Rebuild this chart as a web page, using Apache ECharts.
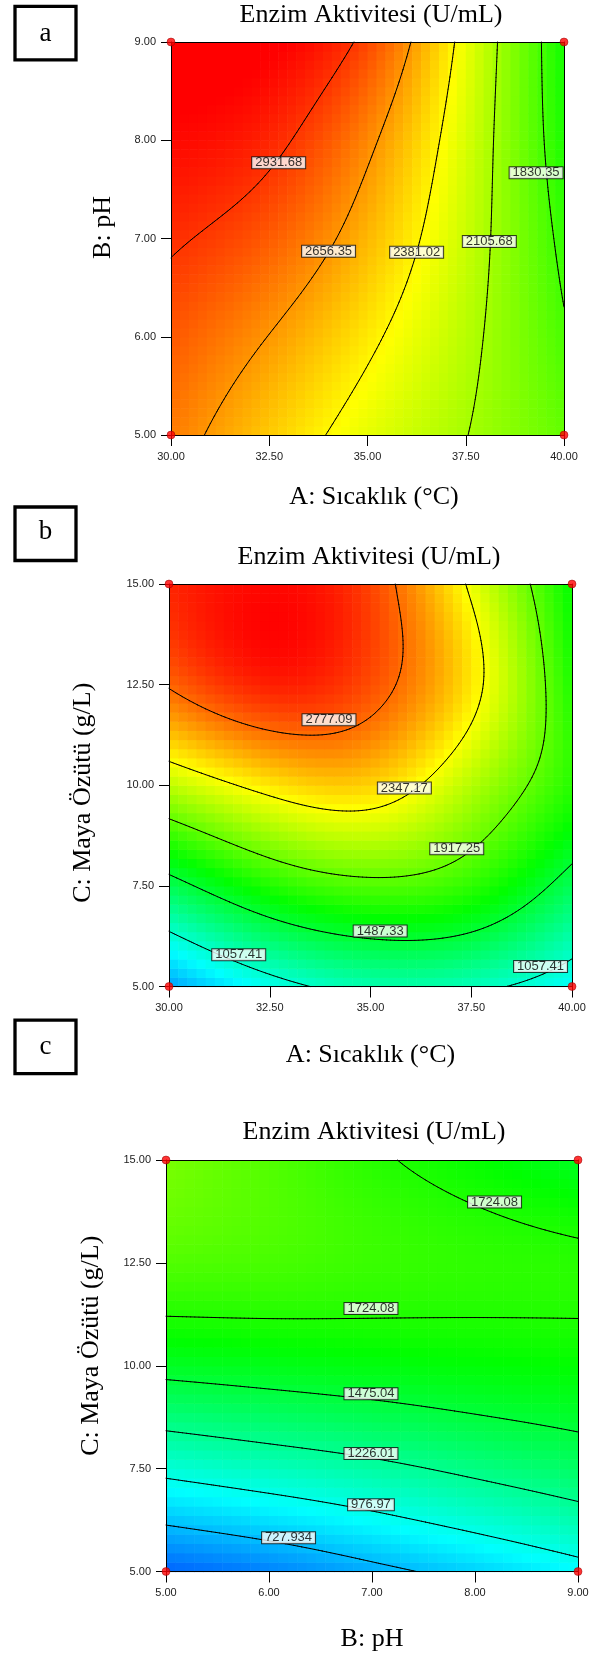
<!DOCTYPE html>
<html>
<head>
<meta charset="utf-8">
<title>Enzim Aktivitesi (U/mL)</title>
<script src="https://cdn.jsdelivr.net/npm/echarts@6/dist/echarts.min.js"></script>
<style>
  html, body { margin: 0; padding: 0; background: #fff; }
  #main { width: 592px; height: 1659px; }
</style>
</head>
<body>
<div id="main"></div>
<script>
// factor levels at the tick marks
var sicaklik = [30, 32.5, 35, 37.5, 40];
var pH = [5, 6, 7, 8, 9];
var mayaOzutu = [5, 7.5, 10, 12.5, 15];

// response (U/mL) at the tick crossings, rows = y value bottom to top
var surfaceA = [           // A (x) vs B: pH (y)
  [2733, 2508, 2293, 2110, 1920],
  [2835, 2652, 2420, 2158, 1850],
  [2955, 2822, 2561, 2208, 1785],
  [3060, 2976, 2697, 2251, 1720],
  [3140, 3100, 2879, 2309, 1690]
];
var surfaceB = [           // A (x) vs C: Maya Özütü (y)
  [650, 965, 1140, 1110, 930],
  [1400, 1720, 1860, 1760, 1390],
  [2172, 2420, 2480, 2146, 1740],
  [2793, 2990, 2860, 2420, 1720],
  [2980, 3060, 2890, 2310, 1640]
];
var surfaceC = [           // B: pH (x) vs C: Maya Özütü (y)
  [480, 565, 680, 790, 910],
  [1028, 1103, 1178, 1268, 1355],
  [1536, 1568, 1596, 1621, 1640],
  [1866, 1840, 1800, 1770, 1750],
  [1980, 1870, 1750, 1650, 1540]
];

// contour levels and where their labels sit [x, y, level]
var levelsA = [1830.35, 2105.68, 2381.02, 2656.35, 2931.68];
var levelsB = [1057.41, 1487.33, 1917.25, 2347.17, 2777.09];
var levelsC = [727.934, 976.97, 1226.01, 1475.04, 1724.08];

var labelsA = [[32.74, 7.77, 2931.68], [34.01, 6.87, 2656.35], [36.25, 6.86, 2381.02],
               [38.10, 6.97, 2105.68], [39.29, 7.67, 1830.35]];
var labelsB = [[33.97, 11.63, 2777.09], [35.84, 9.93, 2347.17], [37.14, 8.42, 1917.25],
               [35.24, 6.38, 1487.33], [31.73, 5.79, 1057.41], [39.22, 5.50, 1057.41]];
var labelsC = [[8.19, 13.98, 1724.08], [6.99, 11.39, 1724.08], [6.99, 9.32, 1475.04],
               [6.99, 7.87, 1226.01], [6.99, 6.62, 976.97], [6.19, 5.82, 727.934]];

// design points (corners)
var cornersA = [[30, 5], [30, 9], [40, 5], [40, 9]];
var cornersB = [[30, 5], [30, 15], [40, 5], [40, 15]];
var cornersC = [[5, 5], [5, 15], [9, 5], [9, 15]];

var SERIF = "'Liberation Serif', 'Times New Roman', serif";
var SANS = "'Liberation Sans', Arial, sans-serif";

// natural cubic spline through equally spaced nodes
function splineSecond(ys) {
  var n = ys.length, m = [], c = [], d = [];
  for (var i = 0; i < n; i++) m[i] = 0;
  for (var i = 1; i < n - 1; i++) {
    var rhs = 6 * (ys[i + 1] - 2 * ys[i] + ys[i - 1]);
    if (i === 1) { c[i] = 0.25; d[i] = rhs / 4; }
    else { var w = 4 - c[i - 1]; c[i] = 1 / w; d[i] = (rhs - d[i - 1]) / w; }
  }
  for (var i = n - 2; i >= 1; i--) m[i] = d[i] - c[i] * m[i + 1];
  return m;
}
function splineEval(ys, m, t) {
  var k = Math.min(Math.max(Math.floor(t), 0), ys.length - 2), u = t - k, v = 1 - u;
  return v * ys[k] + u * ys[k + 1] + ((v * v * v - v) * m[k] + (u * u * u - u) * m[k + 1]) / 6;
}

function surface(p, x, y) {
  var tx = (x - p.xs[0]) / (p.xs[1] - p.xs[0]);
  var ty = (y - p.ys[0]) / (p.ys[1] - p.ys[0]);
  var col = [];
  for (var r = 0; r < p.z.length; r++) col.push(splineEval(p.z[r], p.rowM[r], tx));
  return splineEval(col, splineSecond(col), ty);
}

function cells(p, n) {
  var x0 = p.xs[0], x1 = p.xs[p.xs.length - 1], y0 = p.ys[0], y1 = p.ys[p.ys.length - 1];
  var dx = (x1 - x0) / n, dy = (y1 - y0) / n, out = [];
  for (var j = 0; j < n; j++) {
    for (var i = 0; i < n; i++) {
      var x = x0 + (i + 0.5) * dx, y = y0 + (j + 0.5) * dy;
      out.push([x, y, surface(p, x, y)]);
    }
  }
  return { data: out, dx: dx, dy: dy };
}

// marching squares -> list of [x1, y1, x2, y2]
function contours(p, n) {
  var x0 = p.xs[0], x1 = p.xs[p.xs.length - 1], y0 = p.ys[0], y1 = p.ys[p.ys.length - 1];
  var gx = function (i) { return x0 + (x1 - x0) * i / n; };
  var gy = function (j) { return y0 + (y1 - y0) * j / n; };
  var v = [];
  for (var j = 0; j <= n; j++) {
    v[j] = [];
    for (var i = 0; i <= n; i++) v[j][i] = surface(p, gx(i), gy(j));
  }
  var segs = [];
  p.levels.forEach(function (lv) {
    for (var j = 0; j < n; j++) {
      for (var i = 0; i < n; i++) {
        var c = [[i, j], [i + 1, j], [i + 1, j + 1], [i, j + 1]];
        var pts = [];
        for (var e = 0; e < 4; e++) {
          var a = c[e], b = c[(e + 1) % 4];
          var va = v[a[1]][a[0]], vb = v[b[1]][b[0]];
          if ((va - lv) * (vb - lv) < 0) {
            var t = (lv - va) / (vb - va);
            pts.push([gx(a[0] + (b[0] - a[0]) * t), gy(a[1] + (b[1] - a[1]) * t)]);
          }
        }
        if (pts.length >= 2) segs.push([pts[0][0], pts[0][1], pts[1][0], pts[1][1]]);
        if (pts.length === 4) segs.push([pts[2][0], pts[2][1], pts[3][0], pts[3][1]]);
      }
    }
  });
  return segs;
}

var panels = [
  { xs: sicaklik, ys: pH, z: surfaceA, levels: levelsA, labels: labelsA, corners: cornersA,
    grid: { left: 171, top: 42, width: 393, height: 393 }, xStep: 2.5, yStep: 1,
    xName: 'A: Sıcaklık (°C)', yName: 'B: pH', xGap: 49, yGap: 55, xPad: [0, 0, 0, 13], yPad: [0, 0, 0, 22] },
  { xs: sicaklik, ys: mayaOzutu, z: surfaceB, levels: levelsB, labels: labelsB, corners: cornersB,
    grid: { left: 169, top: 584, width: 403, height: 402.5 }, xStep: 2.5, yStep: 2.5,
    xName: 'A: Sıcaklık (°C)', yName: 'C: Maya Özütü (g/L)', xGap: 56, yGap: 73, xPad: [0, 0, 0, 0], yPad: [0, 15, 0, 0] },
  { xs: pH, ys: mayaOzutu, z: surfaceC, levels: levelsC, labels: labelsC, corners: cornersC,
    grid: { left: 166, top: 1160, width: 412, height: 411.5 }, xStep: 1, yStep: 2.5,
    xName: 'B: pH', yName: 'C: Maya Özütü (g/L)', xGap: 55, yGap: 62, xPad: [0, 0, 0, 0], yPad: [0, 0, 0, 40] }
];

var grids = [], xAxes = [], yAxes = [], series = [], cellSeries = [];
var fmt = function (v) { return v.toFixed(2); };

panels.forEach(function (p, k) {
  p.rowM = p.z.map(splineSecond);
  var xmin = p.xs[0], xmax = p.xs[p.xs.length - 1], ymin = p.ys[0], ymax = p.ys[p.ys.length - 1];
  grids.push(p.grid);
  var line = { show: true, lineStyle: { color: '#000', width: 1 } };
  xAxes.push({
    gridIndex: k, type: 'value', min: xmin, max: xmax, interval: p.xStep, position: 'bottom', z: 6,
    axisLine: line, axisTick: { show: true, length: 11, lineStyle: { color: '#000' } },
    axisLabel: { formatter: fmt, margin: 16, fontSize: 11, fontFamily: SANS, color: '#222' },
    splitLine: { show: false },
    name: p.xName, nameLocation: 'middle', nameGap: p.xGap,
    nameTextStyle: { fontFamily: SERIF, fontSize: 26, color: '#000', padding: p.xPad }
  }, {
    gridIndex: k, type: 'value', min: xmin, max: xmax, position: 'top', z: 6,
    axisLine: line, axisTick: { show: false }, axisLabel: { show: false }, splitLine: { show: false }
  });
  yAxes.push({
    gridIndex: k, type: 'value', min: ymin, max: ymax, interval: p.yStep, position: 'left', z: 6,
    axisLine: line, axisTick: { show: true, length: 10, lineStyle: { color: '#000' } },
    axisLabel: { formatter: fmt, margin: 15, fontSize: 11, fontFamily: SANS, color: '#222' },
    splitLine: { show: false },
    name: p.yName, nameLocation: 'middle', nameGap: p.yGap,
    nameTextStyle: { fontFamily: SERIF, fontSize: 26, color: '#000', padding: p.yPad }
  }, {
    gridIndex: k, type: 'value', min: ymin, max: ymax, position: 'right', z: 6,
    axisLine: line, axisTick: { show: false }, axisLabel: { show: false }, splitLine: { show: false }
  });

  var cl = cells(p, 44);
  cellSeries.push(series.length);
  series.push({
    type: 'custom', xAxisIndex: 2 * k, yAxisIndex: 2 * k, data: cl.data, z: 1, silent: true,
    renderItem: function (params, api) {
      var x = api.value(0), y = api.value(1);
      var p0 = api.coord([x - cl.dx / 2, y + cl.dy / 2]);
      var p1 = api.coord([x + cl.dx / 2, y - cl.dy / 2]);
      return { type: 'rect', shape: { x: p0[0], y: p0[1], width: p1[0] - p0[0] + 0.6, height: p1[1] - p0[1] + 0.6 },
               style: { fill: api.visual('color') } };
    }
  });
  series.push({
    type: 'custom', xAxisIndex: 2 * k, yAxisIndex: 2 * k, data: contours(p, 100), z: 2, silent: true,
    renderItem: function (params, api) {
      var a = api.coord([api.value(0), api.value(1)]);
      var b = api.coord([api.value(2), api.value(3)]);
      return { type: 'line', shape: { x1: a[0], y1: a[1], x2: b[0], y2: b[1] },
               style: { stroke: '#000', lineWidth: 1, lineCap: 'round' } };
    }
  });
  series.push({
    type: 'scatter', xAxisIndex: 2 * k, yAxisIndex: 2 * k, data: p.labels, symbolSize: 0, z: 4,
    clip: false, silent: true,
    label: {
      show: true, position: 'inside', formatter: function (q) { return String(q.data[2]); },
      color: '#000', fontFamily: SANS, fontSize: 13, lineHeight: 11,
      backgroundColor: '#fff', borderColor: '#111', borderWidth: 1, padding: [0, 3, 0, 3]
    }
  });
  series.push({
    type: 'scatter', xAxisIndex: 2 * k, yAxisIndex: 2 * k, data: p.corners, symbolSize: 8, z: 7,
    clip: false, silent: true,
    itemStyle: { color: '#ff0000', borderColor: '#900000', borderWidth: 0.6 }
  });
});

function titleAt(cx, top) {
  return { text: 'Enzim Aktivitesi (U/mL)', left: cx, top: top, textAlign: 'center', padding: 0,
           textStyle: { fontFamily: SERIF, fontSize: 26, fontWeight: 'normal', color: '#000' } };
}
function letterBox(ch, top, cy) {
  return [
    { type: 'rect', shape: { x: 15, y: top + 1.6, width: 61, height: 53.5 },
      style: { fill: '#fff', stroke: '#000', lineWidth: 3.3 } },
    { type: 'text', x: 45.5, y: cy,
      style: { text: ch, fontFamily: SERIF, fontSize: 27, fill: '#000', align: 'center', verticalAlign: 'middle' } }
  ];
}

var chart = echarts.init(document.getElementById('main'));
chart.setOption({
  animation: false,
  backgroundColor: '#fff',
  title: [titleAt(371, 2), titleAt(369, 544), titleAt(374, 1119)],
  grid: grids,
  xAxis: xAxes,
  yAxis: yAxes,
  visualMap: {
    type: 'continuous', show: false, min: 200, max: 3080, dimension: 2, seriesIndex: cellSeries,
    inRange: { color: ['#0000ff', '#00ffff', '#00ff00', '#ffff00', '#ff0000'] }
  },
  graphic: [].concat(letterBox('a', 4.7, 34), letterBox('b', 505.4, 532), letterBox('c', 1018.5, 1047)),
  series: series
});
</script>
</body>
</html>
